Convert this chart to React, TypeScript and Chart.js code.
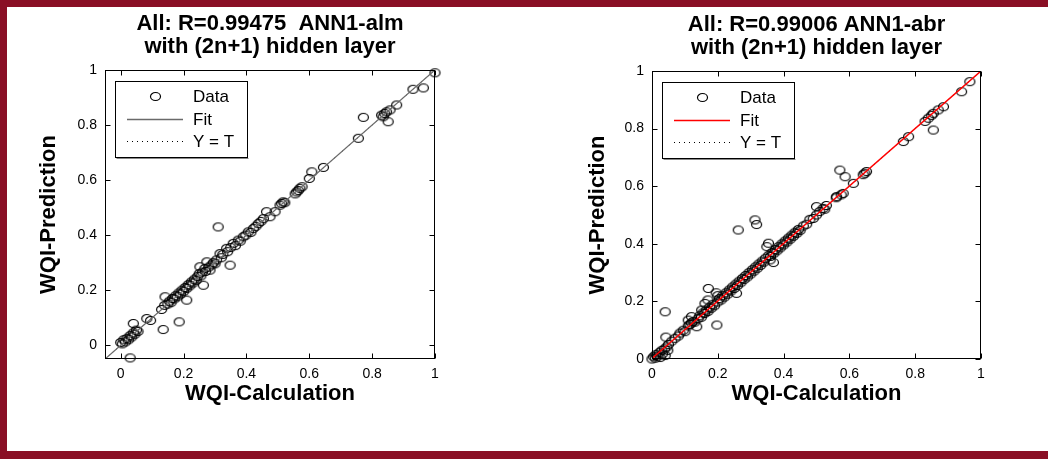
import React, { useEffect, useRef } from 'react';
import { Chart, registerables } from 'chart.js';

Chart.register(...registerables);

const FONT = "'Liberation Sans', Arial, Helvetica, sans-serif";

// ---- text ----
const almTitle = ['All: R=0.99475  ANN1-alm', 'with (2n+1) hidden layer'];
const abrTitle = ['All: R=0.99006 ANN1-abr', 'with (2n+1) hidden layer'];
const xAxisTitle = 'WQI-Calculation';
const yAxisTitle = 'WQI-Prediction';
const legendLabels = ['Data', 'Fit', 'Y = T'];

// ---- ticks ----
const tickValues = [0, 0.2, 0.4, 0.6, 0.8, 1];
const tickLabels = ['0', '0.2', '0.4', '0.6', '0.8', '1'];

// ---- ANN1-alm data ----
const almX = [
  0.0, 0.005, 0.01, 0.015, 0.02, 0.025, 0.03, 0.035, 0.04, 0.045, 0.05, 0.055, 0.04, 0.03,
  0.083, 0.095, 0.135, 0.186, 0.13, 0.141, 0.14, 0.15, 0.155, 0.16, 0.165, 0.17, 0.175, 0.18,
  0.185, 0.19, 0.195, 0.2, 0.205, 0.21, 0.21, 0.215, 0.22, 0.225, 0.23, 0.235, 0.24, 0.245,
  0.25, 0.252, 0.255, 0.26, 0.263, 0.268, 0.27, 0.274, 0.28, 0.284, 0.29, 0.295, 0.3, 0.31,
  0.305, 0.316, 0.32, 0.325, 0.337, 0.34, 0.348, 0.35, 0.358, 0.365, 0.374, 0.38, 0.39, 0.398,
  0.406, 0.414, 0.422, 0.43, 0.438, 0.446, 0.454, 0.464, 0.475, 0.491, 0.507, 0.512, 0.517, 0.522,
  0.555, 0.56, 0.565, 0.57, 0.577, 0.6, 0.608, 0.645, 0.756, 0.772, 0.83, 0.835, 0.84, 0.846,
  0.851, 0.857, 0.878, 0.93, 0.963, 1.0,
];
const almY = [
  0.01, 0.005, 0.02, 0.012, 0.025, 0.02, 0.035, 0.03, 0.045, 0.04, 0.055, 0.05, 0.079, -0.046,
  0.097, 0.09, 0.057, 0.085, 0.13, 0.176, 0.145, 0.15, 0.16, 0.155, 0.17, 0.168, 0.18, 0.176,
  0.19, 0.186, 0.2, 0.195, 0.21, 0.164, 0.206, 0.22, 0.216, 0.23, 0.226, 0.24, 0.236, 0.25,
  0.26, 0.285, 0.252, 0.266, 0.218, 0.279, 0.268, 0.303, 0.284, 0.273, 0.292, 0.3, 0.296, 0.43,
  0.31, 0.333, 0.318, 0.33, 0.352, 0.34, 0.291, 0.355, 0.37, 0.362, 0.382, 0.378, 0.394, 0.4,
  0.412, 0.41, 0.424, 0.432, 0.442, 0.45, 0.46, 0.485, 0.467, 0.485, 0.509, 0.515, 0.521, 0.518,
  0.55, 0.557, 0.562, 0.57, 0.576, 0.606, 0.63, 0.646, 0.752, 0.828, 0.836, 0.83, 0.842, 0.848,
  0.812, 0.855, 0.873, 0.93, 0.935, 0.99,
];
const almFitX = [-0.05, 1.0];
const almFitY = [-0.05, 1.0];
const almIdentX = [-0.05, 1.0];
const almIdentY = [-0.05, 1.0];

// ---- ANN1-abr data ----
const abrX = [
  0.0, 0.005, 0.01, 0.012, 0.018, 0.022, 0.025, 0.03, 0.032, 0.038, 0.04, 0.045, 0.048, 0.05,
  0.04, 0.042, 0.06, 0.07, 0.08, 0.085, 0.095, 0.1, 0.11, 0.11, 0.115, 0.12, 0.12, 0.125,
  0.13, 0.136, 0.14, 0.145, 0.15, 0.151, 0.155, 0.16, 0.161, 0.165, 0.17, 0.17, 0.171, 0.175,
  0.18, 0.185, 0.19, 0.195, 0.197, 0.2, 0.2, 0.205, 0.21, 0.215, 0.22, 0.225, 0.23, 0.235,
  0.24, 0.245, 0.25, 0.255, 0.257, 0.26, 0.262, 0.265, 0.27, 0.275, 0.28, 0.285, 0.29, 0.295,
  0.3, 0.305, 0.31, 0.313, 0.315, 0.318, 0.32, 0.325, 0.33, 0.335, 0.34, 0.345, 0.349, 0.354,
  0.355, 0.359, 0.36, 0.365, 0.369, 0.37, 0.375, 0.38, 0.385, 0.39, 0.395, 0.4, 0.405, 0.41,
  0.415, 0.42, 0.425, 0.43, 0.435, 0.44, 0.445, 0.45, 0.46, 0.47, 0.48, 0.49, 0.5, 0.5,
  0.51, 0.52, 0.525, 0.53, 0.56, 0.561, 0.571, 0.575, 0.581, 0.587, 0.612, 0.642, 0.647, 0.652,
  0.764, 0.78, 0.83, 0.84, 0.85, 0.855, 0.855, 0.87, 0.886, 0.941, 0.966,
];
const abrY = [
  0.0, 0.008, 0.003, 0.015, 0.01, 0.022, 0.005, 0.03, 0.018, 0.035, 0.012, 0.042, 0.03, 0.05,
  0.164, 0.076, 0.062, 0.072, 0.08, 0.09, 0.1, 0.095, 0.135, 0.115, 0.12, 0.147, 0.125, 0.13,
  0.128, 0.112, 0.14, 0.15, 0.145, 0.17, 0.16, 0.158, 0.193, 0.17, 0.205, 0.165, 0.245, 0.18,
  0.176, 0.19, 0.185, 0.23, 0.118, 0.22, 0.198, 0.21, 0.205, 0.22, 0.215, 0.23, 0.225, 0.24,
  0.236, 0.25, 0.245, 0.26, 0.228, 0.255, 0.448, 0.27, 0.265, 0.28, 0.276, 0.29, 0.285, 0.3,
  0.295, 0.31, 0.305, 0.483, 0.32, 0.467, 0.315, 0.33, 0.325, 0.34, 0.336, 0.35, 0.39, 0.402,
  0.36, 0.344, 0.356, 0.37, 0.335, 0.366, 0.38, 0.376, 0.39, 0.386, 0.4, 0.396, 0.41, 0.406,
  0.42, 0.416, 0.43, 0.426, 0.44, 0.436, 0.45, 0.446, 0.462, 0.468, 0.485, 0.488, 0.529, 0.5,
  0.512, 0.523, 0.52, 0.533, 0.56, 0.564, 0.656, 0.57, 0.575, 0.633, 0.61, 0.64, 0.645, 0.651,
  0.755, 0.772, 0.825, 0.836, 0.846, 0.853, 0.795, 0.865, 0.876, 0.928, 0.963,
];
const abrFitX = [0.0, 1.0];
const abrFitY = [0.002, 1.0];
const abrIdentX = [0.0, 1.0];
const abrIdentY = [0.0, 1.0];

type PanelCfg = {
  title: string[];
  xs: number[];
  ys: number[];
  fitX: number[];
  fitY: number[];
  idX: number[];
  idY: number[];
  min: number;
  fitColor: string;
  fitWidth: number;
  yAxisWidth: number;
  padRight: number;
  padTop: number;
  yTitlePad: number;
};

const pts = (xs: number[], ys: number[]) => xs.map((x, i) => ({ x, y: ys[i] }));

function makeMarker(): HTMLCanvasElement {
  const c = document.createElement('canvas');
  c.width = 13;
  c.height = 11;
  const g = c.getContext('2d')!;
  g.strokeStyle = '#000';
  g.lineWidth = 1.2;
  g.beginPath();
  g.ellipse(6.5, 5.5, 5, 4, 0, 0, Math.PI * 2);
  g.stroke();
  return c;
}

const tickCallback = (v: any) => {
  const i = tickValues.findIndex((t) => Math.abs(t - Number(v)) < 1e-6);
  return i >= 0 ? tickLabels[i] : '';
};

const matlabFrame = {
  id: 'matlabFrame',
  afterDatasetsDraw(chart: any) {
    const { ctx, chartArea: ca, scales } = chart;
    const xs = scales.x;
    const ys = scales.y;
    ctx.save();
    ctx.strokeStyle = '#000';
    ctx.lineWidth = 1;
    ctx.setLineDash([]);
    const L = Math.round(ca.left) + 0.5;
    const R = Math.round(ca.right) - 0.5;
    const T = Math.round(ca.top) + 0.5;
    const B = Math.round(ca.bottom) - 0.5;
    ctx.strokeRect(L, T, R - L, B - T);
    const tl = 5;
    ctx.beginPath();
    xs.ticks.forEach((t: any) => {
      const px = Math.round(xs.getPixelForValue(t.value)) + 0.5;
      ctx.moveTo(px, B);
      ctx.lineTo(px, B - tl);
      ctx.moveTo(px, T);
      ctx.lineTo(px, T + tl);
    });
    ys.ticks.forEach((t: any) => {
      const py = Math.round(ys.getPixelForValue(t.value)) + 0.5;
      ctx.moveTo(L, py);
      ctx.lineTo(L + tl, py);
      ctx.moveTo(R, py);
      ctx.lineTo(R - tl, py);
    });
    ctx.stroke();

    // legend box
    const ds = chart.data.datasets;
    const bx = Math.round(ca.left) + 10.5;
    const by = Math.round(ca.top) + 11.5;
    const bw = 132;
    const bh = 76;
    ctx.fillStyle = '#fff';
    ctx.fillRect(bx, by, bw, bh);
    ctx.strokeStyle = '#000';
    ctx.strokeRect(bx, by, bw, bh);
    ctx.strokeStyle = '#888';
    ctx.beginPath();
    ctx.moveTo(bx + 1, by + bh + 1);
    ctx.lineTo(bx + bw + 1, by + bh + 1);
    ctx.stroke();

    const symL = Math.round(ca.left) + 22;
    const symR = Math.round(ca.left) + 78;
    const textX = Math.round(ca.left) + 88;
    const rows = [Math.round(ca.top) + 26, Math.round(ca.top) + 49, Math.round(ca.top) + 71];
    // Data marker
    const mk = ds[0].pointStyle as HTMLCanvasElement;
    ctx.drawImage(mk, Math.round((symL + symR) / 2 - mk.width / 2), Math.round(rows[0] - mk.height / 2));
    // Fit line
    ctx.strokeStyle = ds[1].borderColor;
    ctx.lineWidth = ds[1].borderWidth;
    ctx.beginPath();
    ctx.moveTo(symL, rows[1] + 0.5);
    ctx.lineTo(symR, rows[1] + 0.5);
    ctx.stroke();
    // Y = T dotted
    ctx.strokeStyle = ds[2].borderColor;
    ctx.lineWidth = ds[2].borderWidth;
    ctx.setLineDash(ds[2].borderDash);
    ctx.beginPath();
    ctx.moveTo(symL, rows[2] + 0.5);
    ctx.lineTo(symR, rows[2] + 0.5);
    ctx.stroke();
    ctx.setLineDash([]);

    ctx.fillStyle = '#000';
    ctx.font = `17px ${FONT}`;
    ctx.textBaseline = 'middle';
    ctx.textAlign = 'left';
    ds.forEach((d: any, i: number) => ctx.fillText(d.label, textX, rows[i] + 1));
    ctx.restore();
  },
};

function buildConfig(cfg: PanelCfg, marker: HTMLCanvasElement): any {
  const tickFont = { family: FONT, size: 14 };
  const axisTitleFont = { family: FONT, size: 22, weight: 'bold' as const };
  return {
    type: 'scatter',
    data: {
      datasets: [
        {
          label: legendLabels[0],
          data: pts(cfg.xs, cfg.ys),
          pointStyle: marker,
          pointRadius: 5,
          borderColor: '#000',
          backgroundColor: 'rgba(0,0,0,0)',
          showLine: false,
          clip: false,
          order: 1,
        },
        {
          label: legendLabels[1],
          data: pts(cfg.fitX, cfg.fitY),
          showLine: true,
          pointRadius: 0,
          borderColor: cfg.fitColor,
          borderWidth: cfg.fitWidth,
          order: 0,
        },
        {
          label: legendLabels[2],
          data: pts(cfg.idX, cfg.idY),
          showLine: true,
          pointRadius: 0,
          borderColor: '#000',
          borderWidth: 1,
          borderDash: [1, 4],
          order: 2,
        },
      ],
    },
    options: {
      responsive: false,
      animation: false,
      devicePixelRatio: 1,
      layout: { padding: { top: cfg.padTop, right: cfg.padRight, bottom: 0, left: 0 } },
      plugins: {
        legend: { display: false },
        tooltip: { enabled: false },
        title: {
          display: true,
          fullSize: false,
          text: cfg.title,
          color: '#000',
          font: { family: FONT, size: 22, weight: 'bold', lineHeight: 1.05 },
          padding: { top: 12.5, bottom: 11.3 },
        },
      },
      scales: {
        x: {
          type: 'linear',
          position: 'bottom',
          min: cfg.min,
          max: 1,
          grid: { display: false, drawTicks: false },
          border: { display: false },
          ticks: {
            stepSize: 0.2,
            includeBounds: false,
            padding: 7,
            color: '#000',
            font: tickFont,
            maxRotation: 0,
            callback: tickCallback,
          },
          title: {
            display: true,
            text: xAxisTitle,
            color: '#000',
            font: axisTitleFont,
            padding: { top: 0, bottom: 52 },
          },
          afterFit: (s: any) => {
            s.height = 100;
          },
        },
        y: {
          type: 'linear',
          position: 'left',
          min: cfg.min,
          max: 1,
          grid: { display: false, drawTicks: false },
          border: { display: false },
          ticks: {
            stepSize: 0.2,
            includeBounds: false,
            padding: 8,
            color: '#000',
            font: tickFont,
            callback: tickCallback,
          },
          title: {
            display: true,
            text: yAxisTitle,
            color: '#000',
            font: axisTitleFont,
            padding: { top: cfg.yTitlePad, bottom: 0 },
          },
          afterFit: (s: any) => {
            s.width = cfg.yAxisWidth;
          },
        },
      },
    },
    plugins: [matlabFrame],
  };
}

const almCfg: PanelCfg = {
  title: almTitle,
  xs: almX,
  ys: almY,
  fitX: almFitX,
  fitY: almFitY,
  idX: almIdentX,
  idY: almIdentY,
  min: -0.05,
  fitColor: '#6a6a6a',
  fitWidth: 1.3,
  yAxisWidth: 105,
  padRight: 89,
  padTop: 0,
  yTitlePad: 36,
};

const abrCfg: PanelCfg = {
  title: abrTitle,
  xs: abrX,
  ys: abrY,
  fitX: abrFitX,
  fitY: abrFitY,
  idX: abrIdentX,
  idY: abrIdentY,
  min: 0,
  fitColor: '#ff0000',
  fitWidth: 1.5,
  yAxisWidth: 128,
  padRight: 67,
  padTop: 1,
  yTitlePad: 61,
};

function Panel({ cfg, left }: { cfg: PanelCfg; left: number }) {
  const ref = useRef<HTMLCanvasElement>(null);
  useEffect(() => {
    if (!ref.current) return;
    const marker = makeMarker();
    const chart = new Chart(ref.current, buildConfig(cfg, marker));
    return () => chart.destroy();
  }, []);
  return (
    <canvas
      ref={ref}
      width={524}
      height={459}
      style={{ position: 'absolute', left, top: 0, width: 524, height: 459, display: 'block' }}
    />
  );
}

export default function App() {
  return (
    <div
      style={{
        position: 'fixed',
        left: 0,
        top: 0,
        width: 1048,
        height: 459,
        background: '#fff',
        overflow: 'hidden',
      }}
    >
      <div
        style={{
          position: 'absolute',
          left: 0,
          top: 0,
          width: 1048,
          height: 459,
          boxSizing: 'border-box',
          borderTop: '7px solid #8a0f25',
          borderLeft: '7px solid #8a0f25',
          borderBottom: '8px solid #8a0f25',
        }}
      />
      <Panel cfg={almCfg} left={0} />
      <Panel cfg={abrCfg} left={524} />
    </div>
  );
}
